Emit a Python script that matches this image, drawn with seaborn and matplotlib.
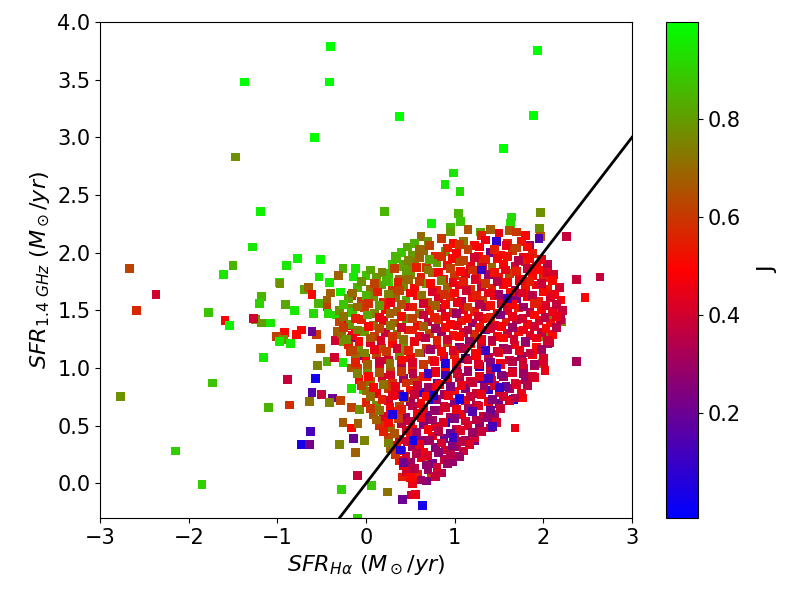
import numpy as np
import pandas as pd
import matplotlib
matplotlib.use("Agg")
import matplotlib.pyplot as plt
import seaborn as sns
from matplotlib.colors import LinearSegmentedColormap, Normalize
from matplotlib.cm import ScalarMappable

# sparse points around the cloud (x = SFR_Halpha, y = SFR_1.4GHz, j = J)
out_x = [-0.40, -1.37, -0.41, -0.58, -1.47, -1.19, -1.28, -1.50, -2.67, -0.90, -0.77, -0.51, -0.26, -0.12,
         1.93, 0.38, 1.89, 1.55, 0.99, 0.89, 1.06, 0.21, 0.74, 1.04, 1.07, 0.95, 1.64, 1.63, 1.97, 1.96,
         1.97, 2.26, 1.40, 1.62, 1.29, 0.62, 1.47, 1.95, 2.64, 2.37, 2.47, 2.37, 1.68, 1.66, 1.77, 1.87,
         1.99, 2.07, 2.19, 2.21, 2.11, 2.19, 2.00, 0.64, 0.41, 0.51, 0.56, 0.24, 0.06, 0.41, 0.74, 0.72,
         1.23, -2.37, -2.59, -2.77, -2.15, -1.85, -1.73, -1.78, -1.61, -1.59, -1.54, -1.16, -1.10, -0.89,
         -0.86, -0.57, -0.61, -0.50, -0.64, -0.38, -0.41, -0.29, -0.63, -0.73, -0.64, -0.30, -0.10, -0.28,
         -0.10, -0.14, -0.26, -0.16, -0.09, -0.12, -0.02, -0.16, -0.07, -0.16, -0.03, -0.55, -0.51, -0.44,
         -0.36, -0.26, -0.16, -0.34, -0.25, -0.18, -0.09, -0.22, -0.12, -0.16, -0.32, -0.56, -0.61, -0.73,
         -0.78, -0.92, -1.01, -0.93, -0.98, -0.85, -1.25, -1.18, -1.08, -1.27, -1.18, -1.20, -0.91, -0.81,
         -0.59, -0.98, -0.97, -0.70, -0.65, -0.61, -0.53, -0.41, -0.40, -0.44, -0.29, -0.44, -0.54, -0.43,
         -0.33, -0.31, -0.14, -0.16, -0.09, -0.16, 0.33, 0.42, 0.47, 0.25, 0.12]
out_y = [3.79, 3.48, 3.48, 3.00, 2.83, 2.36, 2.05, 1.89, 1.86, 1.89, 1.95, 1.94, 1.86, 1.86,
         3.75, 3.18, 3.19, 2.90, 2.69, 2.59, 2.53, 2.36, 2.25, 2.34, 2.27, 2.22, 2.31, 2.25, 2.35, 2.21,
         2.14, 2.14, 2.20, 2.19, 2.18, 2.14, 2.10, 2.12, 1.79, 1.77, 1.61, 1.06, 0.48, 0.73, 0.74, 0.92,
         1.04, 1.22, 1.43, 1.40, 1.46, 1.50, 1.27, -0.19, -0.14, -0.10, -0.095, -0.075, -0.02, 0.055, 0.055, 0.17,
         0.37, 1.64, 1.50, 0.75, 0.28, -0.01, 0.87, 1.48, 1.81, 1.41, 1.37, 1.09, 0.66, 0.90,
         0.68, 0.91, 0.79, 0.77, 0.71, 0.74, 0.70, 0.72, 0.45, 0.34, 0.34, 0.34, 0.07, -0.05,
         -0.30, 0.39, 0.53, 0.48, 0.52, 0.27, 0.37, 0.66, 0.64, 0.82, 0.81, 1.02, 1.17, 1.06,
         1.09, 1.05, 1.00, 1.24, 1.23, 1.14, 1.11, 1.37, 1.32, 1.26, 1.32, 1.29, 1.32, 1.33,
         1.29, 1.31, 1.27, 1.25, 1.23, 1.21, 1.42, 1.39, 1.39, 1.43, 1.62, 1.56, 1.55, 1.50,
         1.47, 1.74, 1.73, 1.68, 1.70, 1.64, 1.79, 1.74, 1.65, 1.59, 1.66, 1.53, 1.56, 1.47,
         1.46, 1.80, 1.79, 1.63, 1.53, 1.52, 1.97, 1.90, 1.88, 1.75, 1.79]
out_j = [1.0, 1.0, 1.0, 1.0, 0.78, 0.97, 0.95, 0.85, 0.62, 0.95, 0.97, 0.97, 0.85, 0.95,
         1.0, 1.0, 1.0, 1.0, 0.95, 0.95, 0.92, 0.85, 0.97, 0.85, 0.88, 0.85, 0.92, 0.92, 0.78, 0.78,
         0.65, 0.38, 0.68, 0.65, 0.82, 0.70, 0.08, 0.15, 0.38, 0.38, 0.50, 0.32, 0.45, 0.04, 0.50, 0.10,
         0.70, 0.40, 0.40, 0.75, 0.75, 0.65, 0.75, 0.03, 0.20, 0.40, 0.45, 0.72, 0.88, 0.55, 0.60, 0.78,
         0.25, 0.40, 0.57, 0.78, 0.90, 0.90, 0.88, 0.88, 0.95, 0.50, 0.97, 0.95, 0.85, 0.38,
         0.58, 0.02, 0.15, 0.38, 0.72, 0.20, 0.75, 0.62, 0.12, 0.03, 0.22, 0.75, 0.38, 0.90,
         0.90, 0.20, 0.67, 0.50, 0.68, 0.68, 0.75, 0.62, 0.78, 0.95, 0.92, 0.75, 0.65, 0.83,
         0.40, 0.95, 0.67, 0.40, 0.78, 0.58, 0.20, 0.40, 0.52, 0.18, 0.67, 0.60, 0.20, 0.50,
         0.50, 0.50, 0.62, 0.78, 0.95, 0.95, 0.78, 0.80, 0.95, 0.40, 0.85, 0.90, 0.82, 0.95,
         0.92, 0.97, 0.78, 0.82, 0.68, 0.50, 0.95, 0.95, 0.68, 0.68, 0.97, 0.62, 0.85, 0.92,
         0.92, 0.68, 0.95, 0.58, 0.40, 0.78, 0.85, 0.78, 0.78, 0.95, 0.72]

# dense core of the cloud, read row by row
core_x = [0.95, 1.15, 1.30, 1.50, 1.70, 1.80,
          0.55, 0.70, 0.85, 0.98, 1.10, 1.22, 1.35, 1.60, 1.75, 1.85,
          0.40, 0.52, 0.65, 0.78, 0.90, 1.02, 1.15, 1.27, 1.40, 1.52, 1.65, 1.78, 1.88,
          0.30, 0.42, 0.55, 0.68, 0.80, 0.92, 1.05, 1.18, 1.30, 1.42, 1.55, 1.68, 1.80, 1.92, 2.05,
          0.00, 0.12, 0.25, 0.38, 0.50, 0.62, 0.75, 0.88, 1.00, 1.12, 1.25, 1.38, 1.50, 1.62, 1.75, 1.88, 2.00, 2.12,
          -0.10, 0.05, 0.18, 0.30, 0.42, 0.55, 0.68, 0.80, 0.92, 1.05, 1.18, 1.30, 1.42, 1.55, 1.68, 1.80, 1.92, 2.05, 2.18,
          -0.20, -0.05, 0.08, 0.20, 0.33, 0.45, 0.58, 0.70, 0.82, 0.95, 1.08, 1.20, 1.32, 1.45, 1.58, 1.70, 1.82, 1.95, 2.08, 2.20,
          -0.30, -0.15, -0.02, 0.10, 0.22, 0.35, 0.48, 0.60, 0.72, 0.85, 0.98, 1.10, 1.22, 1.35, 1.48, 1.60, 1.72, 1.85, 1.98, 2.10, 2.22,
          -0.30, -0.18, -0.05, 0.08, 0.20, 0.32, 0.45, 0.58, 0.70, 0.82, 0.95, 1.08, 1.20, 1.32, 1.45, 1.58, 1.70, 1.82, 1.95, 2.08, 2.20,
          -0.28, -0.15, -0.02, 0.10, 0.22, 0.35, 0.48, 0.60, 0.72, 0.85, 0.98, 1.10, 1.22, 1.35, 1.48, 1.60, 1.72, 1.85, 1.98, 2.10,
          -0.20, -0.08, 0.05, 0.18, 0.30, 0.42, 0.55, 0.68, 0.80, 0.92, 1.05, 1.18, 1.30, 1.42, 1.55, 1.68, 1.80, 1.92, 2.05,
          -0.12, 0.00, 0.12, 0.25, 0.38, 0.50, 0.62, 0.75, 0.88, 1.00, 1.12, 1.25, 1.38, 1.50, 1.62, 1.75, 1.88, 2.00,
          -0.10, 0.02, 0.15, 0.28, 0.40, 0.52, 0.65, 0.78, 0.90, 1.02, 1.15, 1.28, 1.40, 1.52, 1.65, 1.78, 1.90, 2.02,
          -0.08, 0.05, 0.18, 0.30, 0.42, 0.55, 0.68, 0.80, 0.92, 1.05, 1.18, 1.30, 1.42, 1.55, 1.68, 1.80, 1.90,
          0.00, 0.12, 0.25, 0.38, 0.50, 0.62, 0.75, 0.88, 1.00, 1.12, 1.25, 1.38, 1.50, 1.62, 1.75,
          0.00, 0.12, 0.25, 0.38, 0.50, 0.62, 0.75, 0.88, 1.00, 1.12, 1.25, 1.38, 1.50, 1.62,
          0.08, 0.20, 0.32, 0.45, 0.58, 0.70, 0.82, 0.95, 1.08, 1.20, 1.32, 1.45,
          0.15, 0.28, 0.40, 0.52, 0.65, 0.78, 0.90, 1.02, 1.15, 1.28, 1.40,
          0.25, 0.38, 0.50, 0.62, 0.75, 0.88, 1.00, 1.12, 1.22,
          0.28, 0.40, 0.52, 0.65, 0.78, 0.90, 1.02, 1.10,
          0.38, 0.50, 0.62, 0.75, 0.88, 0.98,
          0.45, 0.58, 0.70, 0.85,
          0.52, 0.68]
core_y = [2.18, 2.20, 2.15, 2.17, 2.18, 2.15,
          2.08, 2.10, 2.12, 2.08, 2.10, 2.06, 2.11, 2.08, 2.10, 2.06,
          2.00, 1.98, 2.02, 1.97, 2.01, 1.99, 2.03, 1.97, 2.00, 1.98, 2.02, 1.96, 1.99,
          1.90, 1.88, 1.92, 1.87, 1.91, 1.89, 1.92, 1.88, 1.91, 1.87, 1.90, 1.88, 1.92, 1.88, 1.90,
          1.80, 1.78, 1.82, 1.77, 1.81, 1.79, 1.83, 1.77, 1.80, 1.82, 1.78, 1.81, 1.79, 1.82, 1.77, 1.80, 1.78, 1.81,
          1.70, 1.68, 1.72, 1.67, 1.71, 1.69, 1.73, 1.67, 1.70, 1.72, 1.68, 1.71, 1.69, 1.72, 1.67, 1.70, 1.72, 1.68, 1.70,
          1.60, 1.58, 1.62, 1.57, 1.61, 1.59, 1.63, 1.57, 1.60, 1.62, 1.58, 1.61, 1.59, 1.63, 1.57, 1.60, 1.62, 1.58, 1.61, 1.59,
          1.50, 1.48, 1.52, 1.47, 1.51, 1.49, 1.53, 1.47, 1.50, 1.52, 1.48, 1.51, 1.49, 1.53, 1.47, 1.50, 1.52, 1.48, 1.51, 1.49, 1.50,
          1.40, 1.38, 1.42, 1.37, 1.41, 1.39, 1.43, 1.37, 1.40, 1.42, 1.38, 1.41, 1.39, 1.43, 1.37, 1.40, 1.42, 1.38, 1.41, 1.39, 1.42,
          1.30, 1.28, 1.32, 1.27, 1.31, 1.29, 1.33, 1.27, 1.30, 1.32, 1.28, 1.31, 1.29, 1.33, 1.27, 1.30, 1.32, 1.28, 1.31, 1.29,
          1.20, 1.18, 1.22, 1.17, 1.21, 1.19, 1.23, 1.17, 1.20, 1.22, 1.18, 1.21, 1.19, 1.23, 1.17, 1.20, 1.22, 1.18, 1.21,
          1.10, 1.08, 1.12, 1.07, 1.11, 1.09, 1.13, 1.07, 1.10, 1.12, 1.08, 1.11, 1.09, 1.13, 1.07, 1.10, 1.12, 1.08,
          1.00, 0.98, 1.02, 0.97, 1.01, 0.99, 1.03, 0.97, 1.00, 1.02, 0.98, 1.01, 0.99, 1.03, 0.97, 1.00, 1.02, 0.98,
          0.90, 0.88, 0.92, 0.87, 0.91, 0.89, 0.93, 0.87, 0.90, 0.92, 0.88, 0.91, 0.89, 0.93, 0.87, 0.90, 0.92,
          0.80, 0.78, 0.82, 0.77, 0.81, 0.79, 0.83, 0.77, 0.80, 0.82, 0.78, 0.81, 0.79, 0.82, 0.78,
          0.70, 0.68, 0.72, 0.67, 0.71, 0.69, 0.73, 0.67, 0.70, 0.72, 0.68, 0.71, 0.69, 0.72,
          0.60, 0.58, 0.62, 0.57, 0.61, 0.59, 0.63, 0.57, 0.60, 0.62, 0.58, 0.60,
          0.50, 0.48, 0.52, 0.47, 0.51, 0.49, 0.53, 0.47, 0.50, 0.52, 0.48,
          0.40, 0.38, 0.42, 0.37, 0.41, 0.39, 0.43, 0.37, 0.40,
          0.30, 0.28, 0.32, 0.27, 0.31, 0.29, 0.32, 0.28,
          0.20, 0.18, 0.22, 0.17, 0.21, 0.19,
          0.10, 0.08, 0.12, 0.09,
          0.00, 0.02]
core_j = [0.80, 0.65, 0.55, 0.45, 0.60, 0.50,
          0.85, 0.78, 0.60, 0.50, 0.72, 0.50, 0.45, 0.55, 0.52, 0.30,
          0.88, 0.80, 0.70, 0.55, 0.78, 0.48, 0.62, 0.50, 0.22, 0.50, 0.60, 0.45, 0.55,
          0.88, 0.82, 0.72, 0.60, 0.80, 0.52, 0.65, 0.45, 0.58, 0.70, 0.50, 0.40, 0.55, 0.48, 0.35,
          0.88, 0.80, 0.85, 0.68, 0.78, 0.55, 0.70, 0.50, 0.60, 0.42, 0.55, 0.30, 0.52, 0.62, 0.45, 0.50, 0.55, 0.40,
          0.85, 0.72, 0.80, 0.60, 0.75, 0.50, 0.82, 0.55, 0.68, 0.45, 0.60, 0.38, 0.55, 0.48, 0.30, 0.52, 0.45, 0.55, 0.40,
          0.80, 0.62, 0.78, 0.55, 0.70, 0.82, 0.50, 0.65, 0.42, 0.58, 0.35, 0.50, 0.62, 0.45, 0.52, 0.25, 0.48, 0.55, 0.40, 0.50,
          0.78, 0.88, 0.60, 0.75, 0.50, 0.68, 0.42, 0.72, 0.55, 0.38, 0.60, 0.45, 0.55, 0.30, 0.50, 0.42, 0.55, 0.35, 0.50, 0.45, 0.38,
          0.62, 0.80, 0.55, 0.72, 0.45, 0.65, 0.78, 0.50, 0.35, 0.60, 0.48, 0.55, 0.28, 0.50, 0.42, 0.55, 0.35, 0.50, 0.40, 0.52, 0.35,
          0.70, 0.45, 0.80, 0.60, 0.38, 0.72, 0.55, 0.45, 0.62, 0.30, 0.52, 0.40, 0.58, 0.20, 0.48, 0.38, 0.52, 0.42, 0.35, 0.50,
          0.55, 0.78, 0.42, 0.65, 0.50, 0.80, 0.35, 0.58, 0.45, 0.62, 0.25, 0.50, 0.40, 0.55, 0.30, 0.45, 0.38, 0.50, 0.32,
          0.70, 0.50, 0.62, 0.40, 0.75, 0.48, 0.30, 0.60, 0.42, 0.55, 0.20, 0.48, 0.35, 0.52, 0.40, 0.30, 0.48, 0.42,
          0.60, 0.78, 0.45, 0.65, 0.35, 0.55, 0.70, 0.40, 0.50, 0.30, 0.45, 0.08, 0.40, 0.50, 0.25, 0.42, 0.35, 0.45,
          0.50, 0.70, 0.40, 0.58, 0.30, 0.62, 0.45, 0.20, 0.50, 0.35, 0.42, 0.15, 0.45, 0.30, 0.40, 0.28, 0.45,
          0.72, 0.45, 0.60, 0.35, 0.52, 0.05, 0.45, 0.30, 0.50, 0.25, 0.40, 0.10, 0.42, 0.30, 0.45,
          0.55, 0.78, 0.40, 0.62, 0.30, 0.48, 0.05, 0.40, 0.25, 0.48, 0.32, 0.45, 0.20, 0.42,
          0.65, 0.42, 0.55, 0.30, 0.48, 0.20, 0.42, 0.32, 0.45, 0.25, 0.38, 0.30,
          0.58, 0.72, 0.35, 0.50, 0.25, 0.42, 0.04, 0.35, 0.42, 0.28, 0.35,
          0.62, 0.40, 0.52, 0.28, 0.45, 0.20, 0.38, 0.30, 0.40,
          0.70, 0.45, 0.30, 0.48, 0.25, 0.40, 0.30, 0.38,
          0.52, 0.30, 0.45, 0.22, 0.38, 0.28,
          0.40, 0.55, 0.30, 0.35,
          0.45, 0.25]

# in-between rows of the core (fill the gaps between the rows above)
mid_x = [0.47, 0.60, 0.72, 0.92, 1.05, 1.28, 1.45, 1.58, 1.70, 1.82,
         0.35, 0.48, 0.60, 0.72, 0.85, 0.97, 1.10, 1.22, 1.35, 1.48, 1.60, 1.72, 1.85, 1.98,
         0.05, 0.18, 0.32, 0.45, 0.57, 0.70, 0.82, 0.95, 1.07, 1.20, 1.32, 1.45, 1.57, 1.70, 1.82, 1.95, 2.05,
         -0.05, 0.10, 0.23, 0.36, 0.48, 0.60, 0.73, 0.85, 0.98, 1.10, 1.23, 1.35, 1.48, 1.60, 1.73, 1.85, 1.98, 2.10,
         -0.15, 0.00, 0.13, 0.25, 0.38, 0.50, 0.63, 0.75, 0.88, 1.00, 1.13, 1.25, 1.38, 1.50, 1.63, 1.75, 1.88, 2.00, 2.13,
         -0.25, -0.10, 0.03, 0.15, 0.28, 0.40, 0.53, 0.65, 0.78, 0.90, 1.03, 1.15, 1.28, 1.40, 1.53, 1.65, 1.78, 1.90, 2.03, 2.15,
         -0.25, -0.12, 0.02, 0.15, 0.27, 0.40, 0.52, 0.65, 0.77, 0.90, 1.02, 1.15, 1.27, 1.40, 1.52, 1.65, 1.77, 1.90, 2.02, 2.15,
         -0.25, -0.10, 0.03, 0.15, 0.28, 0.40, 0.53, 0.65, 0.78, 0.90, 1.03, 1.15, 1.28, 1.40, 1.53, 1.65, 1.78, 1.90, 2.03, 2.15,
         -0.22, -0.08, 0.05, 0.17, 0.30, 0.42, 0.55, 0.67, 0.80, 0.92, 1.05, 1.17, 1.30, 1.42, 1.55, 1.67, 1.80, 1.92, 2.05,
         -0.15, -0.02, 0.10, 0.23, 0.35, 0.48, 0.60, 0.73, 0.85, 0.98, 1.10, 1.23, 1.35, 1.48, 1.60, 1.73, 1.85, 1.98,
         -0.12, 0.02, 0.15, 0.27, 0.40, 0.52, 0.65, 0.77, 0.90, 1.02, 1.15, 1.27, 1.40, 1.52, 1.65, 1.77, 1.90, 2.00,
         -0.10, 0.03, 0.15, 0.28, 0.40, 0.53, 0.65, 0.78, 0.90, 1.03, 1.15, 1.28, 1.40, 1.53, 1.65, 1.78, 1.88,
         -0.05, 0.08, 0.20, 0.33, 0.45, 0.58, 0.70, 0.83, 0.95, 1.08, 1.20, 1.33, 1.45, 1.58, 1.70, 1.82,
         0.05, 0.18, 0.30, 0.43, 0.55, 0.68, 0.80, 0.93, 1.05, 1.18, 1.30, 1.43, 1.55, 1.68,
         0.05, 0.15, 0.27, 0.40, 0.52, 0.65, 0.77, 0.90, 1.02, 1.15, 1.27, 1.40, 1.52,
         0.12, 0.25, 0.37, 0.50, 0.62, 0.75, 0.87, 1.00, 1.12, 1.25, 1.37, 1.47,
         0.20, 0.32, 0.45, 0.57, 0.70, 0.82, 0.95, 1.07, 1.20, 1.30,
         0.25, 0.35, 0.47, 0.60, 0.72, 0.85, 0.97, 1.08, 1.17,
         0.33, 0.45, 0.57, 0.70, 0.82, 0.95, 1.05,
         0.42, 0.55, 0.68, 0.80, 0.92,
         0.50, 0.62, 0.78]
mid_y = [2.05, 2.03, 2.06, 2.04, 2.07, 2.05, 2.03, 2.06, 2.04, 2.05,
         1.95, 1.93, 1.96, 1.94, 1.97, 1.95, 1.93, 1.96, 1.94, 1.95, 1.97, 1.93, 1.95, 1.94,
         1.85, 1.83, 1.86, 1.84, 1.87, 1.85, 1.83, 1.86, 1.84, 1.85, 1.87, 1.83, 1.85, 1.84, 1.86, 1.85, 1.83,
         1.75, 1.73, 1.76, 1.74, 1.77, 1.75, 1.73, 1.76, 1.74, 1.75, 1.77, 1.73, 1.75, 1.74, 1.76, 1.75, 1.73, 1.76,
         1.65, 1.63, 1.66, 1.64, 1.67, 1.65, 1.63, 1.66, 1.64, 1.65, 1.67, 1.63, 1.65, 1.64, 1.66, 1.65, 1.63, 1.66, 1.64,
         1.55, 1.53, 1.56, 1.54, 1.57, 1.55, 1.53, 1.56, 1.54, 1.55, 1.57, 1.53, 1.55, 1.54, 1.56, 1.55, 1.53, 1.56, 1.54, 1.55,
         1.45, 1.43, 1.46, 1.44, 1.47, 1.45, 1.43, 1.46, 1.44, 1.45, 1.47, 1.43, 1.45, 1.44, 1.46, 1.45, 1.43, 1.46, 1.44, 1.45,
         1.35, 1.33, 1.36, 1.34, 1.37, 1.35, 1.33, 1.36, 1.34, 1.35, 1.37, 1.33, 1.35, 1.34, 1.36, 1.35, 1.33, 1.36, 1.34, 1.35,
         1.25, 1.23, 1.26, 1.24, 1.27, 1.25, 1.23, 1.26, 1.24, 1.25, 1.27, 1.23, 1.25, 1.24, 1.26, 1.25, 1.23, 1.26, 1.24,
         1.15, 1.13, 1.16, 1.14, 1.17, 1.15, 1.13, 1.16, 1.14, 1.15, 1.17, 1.13, 1.15, 1.14, 1.16, 1.15, 1.13, 1.16,
         1.05, 1.03, 1.06, 1.04, 1.07, 1.05, 1.03, 1.06, 1.04, 1.05, 1.07, 1.03, 1.05, 1.04, 1.06, 1.05, 1.03, 1.06,
         0.95, 0.93, 0.96, 0.94, 0.97, 0.95, 0.93, 0.96, 0.94, 0.95, 0.97, 0.93, 0.95, 0.94, 0.96, 0.95, 0.93,
         0.85, 0.83, 0.86, 0.84, 0.87, 0.85, 0.83, 0.86, 0.84, 0.85, 0.87, 0.83, 0.85, 0.84, 0.86, 0.85,
         0.75, 0.73, 0.76, 0.74, 0.77, 0.75, 0.73, 0.76, 0.74, 0.75, 0.77, 0.73, 0.75, 0.74,
         0.65, 0.63, 0.66, 0.64, 0.67, 0.65, 0.63, 0.66, 0.64, 0.65, 0.67, 0.63, 0.65,
         0.55, 0.53, 0.56, 0.54, 0.57, 0.55, 0.53, 0.56, 0.54, 0.55, 0.57, 0.53,
         0.45, 0.43, 0.46, 0.44, 0.47, 0.45, 0.43, 0.46, 0.44, 0.45,
         0.35, 0.33, 0.36, 0.34, 0.37, 0.35, 0.33, 0.36, 0.34,
         0.25, 0.23, 0.26, 0.24, 0.27, 0.25, 0.23,
         0.15, 0.13, 0.16, 0.14, 0.17,
         0.05, 0.03, 0.06]
mid_j = [0.82, 0.70, 0.62, 0.55, 0.60, 0.48, 0.55, 0.45, 0.62, 0.50,
         0.85, 0.75, 0.68, 0.82, 0.58, 0.50, 0.62, 0.40, 0.55, 0.48, 0.52, 0.35, 0.50, 0.45,
         0.82, 0.75, 0.62, 0.80, 0.55, 0.72, 0.48, 0.62, 0.50, 0.58, 0.40, 0.52, 0.45, 0.55, 0.38, 0.50, 0.42,
         0.78, 0.62, 0.85, 0.55, 0.70, 0.60, 0.50, 0.75, 0.45, 0.55, 0.42, 0.60, 0.35, 0.50, 0.45, 0.55, 0.38, 0.50,
         0.70, 0.85, 0.55, 0.75, 0.62, 0.48, 0.72, 0.42, 0.58, 0.50, 0.40, 0.55, 0.45, 0.30, 0.50, 0.42, 0.35, 0.50, 0.45,
         0.88, 0.70, 0.58, 0.80, 0.45, 0.65, 0.55, 0.40, 0.68, 0.50, 0.45, 0.60, 0.35, 0.52, 0.40, 0.48, 0.30, 0.55, 0.42, 0.38,
         0.72, 0.55, 0.82, 0.45, 0.68, 0.52, 0.62, 0.38, 0.55, 0.45, 0.30, 0.50, 0.42, 0.55, 0.25, 0.45, 0.40, 0.50, 0.35, 0.45,
         0.60, 0.75, 0.50, 0.62, 0.72, 0.40, 0.55, 0.68, 0.32, 0.50, 0.45, 0.35, 0.52, 0.40, 0.48, 0.30, 0.45, 0.40, 0.50, 0.35,
         0.78, 0.50, 0.65, 0.42, 0.58, 0.72, 0.45, 0.35, 0.55, 0.40, 0.50, 0.30, 0.45, 0.35, 0.50, 0.40, 0.28, 0.45, 0.40,
         0.62, 0.75, 0.45, 0.60, 0.40, 0.55, 0.68, 0.30, 0.50, 0.42, 0.35, 0.48, 0.10, 0.40, 0.32, 0.45, 0.38, 0.30,
         0.55, 0.68, 0.38, 0.72, 0.50, 0.42, 0.60, 0.45, 0.30, 0.50, 0.38, 0.42, 0.25, 0.45, 0.35, 0.40, 0.30, 0.42,
         0.75, 0.50, 0.65, 0.42, 0.60, 0.35, 0.52, 0.45, 0.12, 0.40, 0.30, 0.45, 0.35, 0.25, 0.42, 0.30, 0.40,
         0.62, 0.50, 0.72, 0.45, 0.58, 0.40, 0.30, 0.50, 0.25, 0.45, 0.38, 0.30, 0.40, 0.20, 0.42, 0.35,
         0.70, 0.55, 0.45, 0.62, 0.38, 0.50, 0.30, 0.45, 0.10, 0.38, 0.45, 0.25, 0.40, 0.35,
         0.60, 0.72, 0.48, 0.55, 0.35, 0.45, 0.28, 0.40, 0.45, 0.30, 0.42, 0.20, 0.38,
         0.68, 0.50, 0.60, 0.38, 0.45, 0.30, 0.42, 0.25, 0.40, 0.35, 0.28, 0.40,
         0.55, 0.65, 0.42, 0.30, 0.48, 0.35, 0.20, 0.42, 0.30, 0.38,
         0.75, 0.50, 0.40, 0.45, 0.30, 0.40, 0.25, 0.35, 0.42,
         0.60, 0.40, 0.35, 0.42, 0.28, 0.35, 0.30,
         0.45, 0.35, 0.28, 0.40, 0.30,
         0.50, 0.30, 0.38]

# blue / violet squares that sit on top of the core
top_x = [0.42, 0.53, 1.06, 0.89, 0.76, 0.39, 1.47, 1.38, 1.51, 0.42, 1.43, 0.30, 0.98, 1.20, 0.70, 1.60, 1.30]
top_y = [0.75, 0.37, 0.73, 1.04, 0.76, 0.29, 1.00, 0.91, 0.83, 0.18, 0.49, 0.60, 0.40, 0.62, 0.95, 1.60, 1.85]
top_j = [0.03, 0.02, 0.02, 0.05, 0.04, 0.06, 0.08, 0.12, 0.10, 0.20, 0.12, 0.05, 0.10, 0.15, 0.10, 0.12, 0.10]

# one-to-one line
line_x = [-3, 3]
line_y = [-3, 3]

j_min, j_max = -0.015, 0.998
cbar_ticks = [0.2, 0.4, 0.6, 0.8]

df = pd.DataFrame({
    "x": out_x + core_x + mid_x + top_x,
    "y": out_y + core_y + mid_y + top_y,
    "J": out_j + core_j + mid_j + top_j,
})

cmap = LinearSegmentedColormap.from_list("bgr", ["#0000ff", "#ff0000", "#00ff00"])
norm = Normalize(vmin=j_min, vmax=j_max)

fig = plt.figure(figsize=(7.88, 6.04), dpi=100)
ax = fig.add_axes([0.127, 0.1424, 0.675, 0.8212])
cax = fig.add_axes([0.845, 0.1424, 0.041, 0.8212])

sns.scatterplot(data=df, x="x", y="y", hue="J", palette=cmap, hue_norm=norm,
                marker="s", s=40, linewidth=0, legend=False, ax=ax, zorder=2)
ax.plot(line_x, line_y, color="black", lw=2, zorder=3)

ax.set_xlim(-3, 3)
ax.set_ylim(-0.3, 4.0)
ax.set_xticks([-3, -2, -1, 0, 1, 2, 3])
ax.set_yticks([0.0, 0.5, 1.0, 1.5, 2.0, 2.5, 3.0, 3.5, 4.0])
ax.tick_params(labelsize=15)
ax.set_xlabel(r"$SFR_{H\alpha}$ $(M_\odot/yr)$", fontsize=16)
ax.set_ylabel(r"$SFR_{1.4\ GHz}$ $(M_\odot/yr)$", fontsize=16)

sm = ScalarMappable(norm=norm, cmap=cmap)
cbar = fig.colorbar(sm, cax=cax, ticks=cbar_ticks)
cbar.ax.tick_params(labelsize=15)
cbar.set_label("J", fontsize=16, labelpad=12)

fig.savefig("out.png", dpi=100)
